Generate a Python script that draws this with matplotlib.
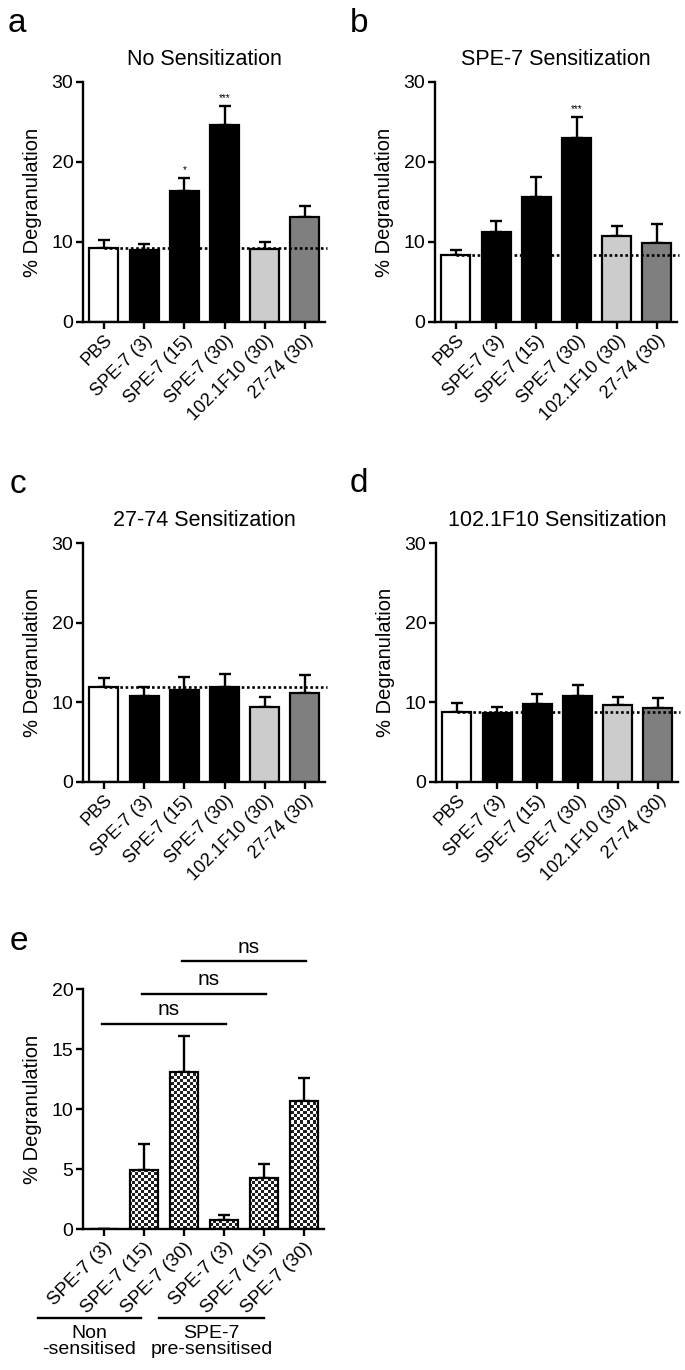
#!/usr/bin/env python3
"""Degranulation panels a-e: mean % degranulation with SEM, per sensitization."""
import numpy as np
import matplotlib

matplotlib.use("Agg")
import matplotlib.pyplot as plt

plt.rcParams["font.family"] = ["Liberation Sans", "DejaVu Sans"]

# panels a-d share the same stimuli
stimuli = ["PBS", "SPE-7 (3)", "SPE-7 (15)", "SPE-7 (30)", "102.1F10 (30)", "27-74 (30)"]
bar_colors = ["white", "black", "black", "black", "#cccccc", "#7f7f7f"]

titles = ["No Sensitization", "SPE-7 Sensitization", "27-74 Sensitization", "102.1F10 Sensitization"]
means_a = [9.2, 9.0, 16.4, 24.6, 9.1, 13.1]
sem_a = [1.1, 0.7, 1.6, 2.4, 0.9, 1.4]
means_b = [8.4, 11.2, 15.6, 23.0, 10.7, 9.9]
sem_b = [0.6, 1.4, 2.5, 2.6, 1.3, 2.4]
means_c = [11.9, 10.8, 11.6, 11.9, 9.4, 11.2]
sem_c = [1.2, 1.1, 1.6, 1.6, 1.3, 2.2]
means_d = [8.8, 8.7, 9.8, 10.8, 9.7, 9.3]
sem_d = [1.1, 0.7, 1.2, 1.4, 1.0, 1.3]
stars_a = ["", "", "*", "***", "", ""]
stars_b = ["", "", "", "***", "", ""]

# panel e
e_labels = ["SPE-7 (3)", "SPE-7 (15)", "SPE-7 (30)", "SPE-7 (3)", "SPE-7 (15)", "SPE-7 (30)"]
e_means = [0.0, 4.9, 13.05, 0.78, 4.25, 10.7]
e_sem = [0.0, 2.2, 3.05, 0.4, 1.15, 1.9]
e_ns_pairs = [(0, 3), (1, 4), (2, 5)]
e_ns_levels = [17.1, 19.6, 22.3]
e_groups = ["Non\n-sensitised", "SPE-7\npre-sensitised"]

W, H = 685, 1370
fig = plt.figure(figsize=(W / 100, H / 100), dpi=100)


def px_axes(left, top, right, bottom):
    return fig.add_axes([left / W, 1 - bottom / H, (right - left) / W, (bottom - top) / H])


def style(ax, ymax, step, labels, xfs=13):
    for s in ("top", "right"):
        ax.spines[s].set_visible(False)
    for s in ("left", "bottom"):
        ax.spines[s].set_linewidth(1.7)
    ax.set_ylim(0, ymax)
    ax.set_yticks(np.arange(0, ymax + 0.1, step))
    ax.set_xlim(-0.52, 5.5)
    ax.set_xticks(range(len(labels)))
    ax.set_xticklabels(labels, rotation=45, ha="right", rotation_mode="anchor", fontsize=xfs)
    ax.tick_params(axis="both", direction="out", length=5, width=1.7, pad=2)
    ax.tick_params(axis="y", labelsize=14)
    ax.set_ylabel("% Degranulation", fontsize=14.5, labelpad=7)


def bar_panel(ax, means, sem, title, stars=None):
    x = np.arange(len(means))
    ax.bar(x, means, width=0.72, color=bar_colors, edgecolor="black", linewidth=1.6, zorder=2)
    ax.errorbar(x, means, yerr=[np.zeros(len(sem)), sem], fmt="none", ecolor="black",
                elinewidth=1.7, capsize=4.5, capthick=1.7, zorder=1)
    ax.hlines(means[0], 0, 5.55, colors="black", linestyles=(0, (1, 1)), linewidth=1.9,
              zorder=3, clip_on=False)
    if stars:
        for i, s in enumerate(stars):
            if s:
                ax.text(i, means[i] + sem[i] + 0.4, s, ha="center", va="bottom", fontsize=7)
    style(ax, 30, 10, stimuli)
    ax.set_title(title, fontsize=15.5, pad=12)


ax_a = px_axes(83, 82, 325, 322)
ax_b = px_axes(435, 82, 677, 322)
ax_c = px_axes(83, 543, 325, 782)
ax_d = px_axes(436, 543, 678, 782)
bar_panel(ax_a, means_a, sem_a, titles[0], stars_a)
bar_panel(ax_b, means_b, sem_b, titles[1], stars_b)
bar_panel(ax_c, means_c, sem_c, titles[2])
bar_panel(ax_d, means_d, sem_d, titles[3])

# panel e with checkerboard fill
ax_e = px_axes(83, 989, 324, 1229)
xe = np.arange(len(e_means))
ax_e.errorbar(xe, e_means, yerr=[np.zeros(len(e_sem)), e_sem], fmt="none", ecolor="black",
              elinewidth=1.7, capsize=4.5, capthick=1.7, zorder=1)
bars = ax_e.bar(xe, e_means, width=0.7, facecolor="none", edgecolor="black", linewidth=1.6, zorder=3)
checker = (np.add.outer(np.arange(80), np.arange(80)) % 2).astype(float)
for b in bars:
    im = ax_e.imshow(checker, extent=(-0.5, 5.5, 0, 20), cmap="gray", interpolation="nearest",
                     aspect="auto", zorder=2, vmin=-0.15, vmax=1)
    im.set_clip_path(b)
style(ax_e, 20, 5, e_labels, xfs=13.5)
for (i, j), lvl in zip(e_ns_pairs, e_ns_levels):
    ax_e.plot([i - 0.05, j + 0.05], [lvl, lvl], color="black", lw=1.7, clip_on=False)
    ax_e.text((i + j) / 2 + 0.12, lvl + 0.4, "ns", ha="center", va="bottom", fontsize=15)
trans = ax_e.get_xaxis_transform()
for (x0, x1), name in zip([(-1.65, 0.93), (1.38, 4.0)], e_groups):
    ax_e.plot([x0, x1], [-0.371, -0.371], color="black", lw=1.7, transform=trans, clip_on=False)
    ax_e.text((x0 + x1) / 2, -0.40, name, transform=trans, ha="center", va="top",
              fontsize=14, linespacing=0.95)

for lbl, (x, y) in zip("abcde", [(8, 24), (350, 24), (10, 485), (350, 483), (10, 942)]):
    fig.text(x / W, 1 - y / H, lbl, fontsize=24, ha="left", va="center")

fig.savefig("out.png", dpi=100, facecolor="white")
